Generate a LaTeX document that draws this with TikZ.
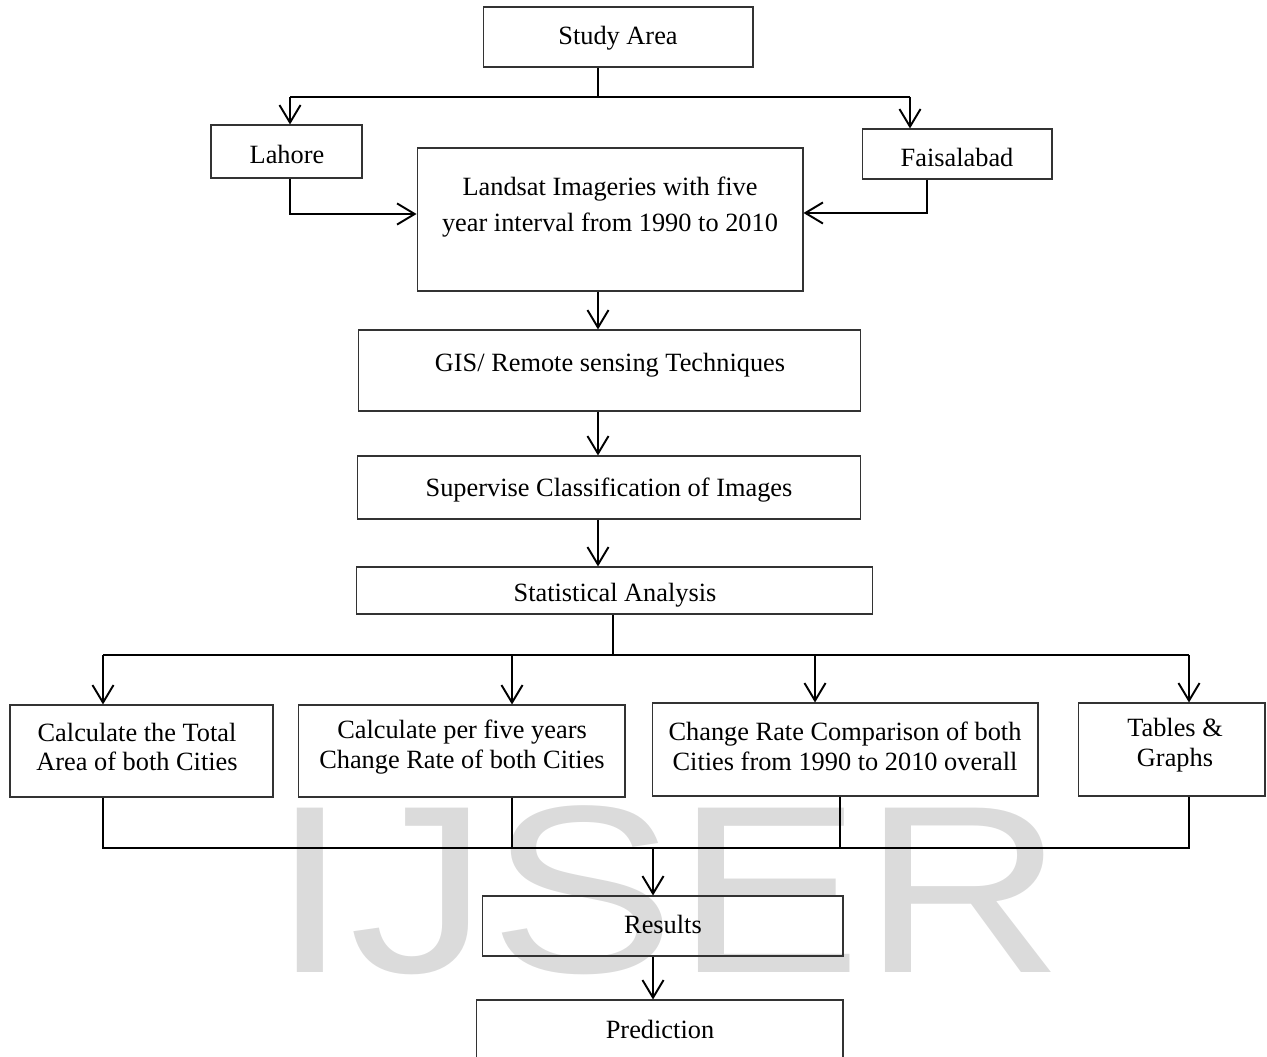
\documentclass[tikz,border=0pt]{standalone}
\usepackage{fontspec}
\setmainfont{Liberation Serif}
\newfontfamily\wmfont{Liberation Sans}
\usetikzlibrary{positioning,arrows.meta,calc}

\begin{document}
\begin{tikzpicture}[
    x=0.02cm, y=-0.02cm,
    box/.style={rectangle, draw=black!80, line width=0.6pt, inner sep=0pt},
    lbl/.style={align=center, inner sep=0pt, font=\fontsize{15}{17}\selectfont},
    link/.style={line width=1.1pt},
    arr/.style={link, -{Straight Barb[length=10pt,width=12pt,line width=1.1pt]}},
    wmark/.style={anchor=base, inner sep=0pt, text=black!14, font=\wmfont\fontsize{136}{136}\selectfont}
]
\useasboundingbox (0,0) rectangle (1267,1057);

% watermark
\node[wmark] (wm) at (668,972) {\scalebox{1.17}[1]{IJSER}};

% boxes
\node[box, minimum width=5.40cm, minimum height=1.20cm] (study) at (618,37) {};
\node[box, minimum width=3.02cm, minimum height=1.06cm] (lahore) at (286.5,151.5) {};
\node[box, minimum width=3.80cm, minimum height=1.00cm] (faisal) at (957,154) {};
\node[box, minimum width=7.72cm, minimum height=2.86cm] (landsat) at (610,219.5) {};
\node[box, minimum width=10.06cm, minimum height=1.62cm] (gis) at (609.5,370.5) {};
\node[box, minimum width=10.08cm, minimum height=1.26cm] (superv) at (609,487.5) {};
\node[box, minimum width=10.34cm, minimum height=0.94cm] (stat) at (614.5,590.5) {};
\node[box, minimum width=5.26cm, minimum height=1.84cm] (total) at (141.5,751) {};
\node[box, minimum width=6.54cm, minimum height=1.84cm] (perfive) at (461.5,751) {};
\node[box, minimum width=7.72cm, minimum height=1.86cm] (change) at (845,749.5) {};
\node[box, minimum width=3.74cm, minimum height=1.86cm] (tables) at (1171.5,749.5) {};
\node[box, minimum width=7.22cm, minimum height=1.20cm] (results) at (662.5,926) {};
\node[box, minimum width=7.34cm, minimum height=1.40cm] (predict) at (659.5,1035) {};

% texts
\node[lbl] (study-t) at (618,38) {Study Area};
\node[lbl] (lahore-t) at (287,154) {Lahore};
\node[lbl] (faisal-t) at (957,157) {Faisalabad};
\node[lbl, font=\fontsize{15}{20}\selectfont] (landsat-t) at (610,207) {Landsat Imageries with five\\year interval from 1990 to 2010};
\node[lbl] (gis-t) at (610,365) {GIS/ Remote sensing Techniques};
\node[lbl] (superv-t) at (609,490) {Supervise Classification of Images};
\node[lbl] (stat-t) at (615,595) {Statistical Analysis};
\node[lbl] (total-t) at (137,747) {Calculate the Total\\Area of both Cities};
\node[lbl] (perfive-t) at (462,747) {Calculate per five years\\Change Rate of both Cities};
\node[lbl] (change-t) at (845,746) {Change Rate Comparison of both\\Cities from 1990 to 2010 overall};
\node[lbl] (tables-t) at (1175,745) {Tables \&\\Graphs};
\node[lbl] (results-t) at (663,924) {Results};
\node[lbl] (predict-t) at (660,1029) {Prediction};

% study area split
\coordinate (topM) at (598,97);
\coordinate (topL) at (290,97);
\coordinate (topR) at (910,97);
\draw[link] (study.south -| topM) -- (topM);
\draw[link] (topL) -- (topR);
\draw[arr] (topL) -- (topL |- lahore.north);
\draw[arr] (topR) -- (topR |- faisal.north);

% cities into imageries
\coordinate (lbend) at (290,214);
\coordinate (fbend) at (927,213);
\draw[arr] (lahore.south -| lbend) -- (lbend) -- (lbend -| landsat.west);
\draw[arr] (faisal.south -| fbend) -- (fbend) -- (fbend -| landsat.east);

% main column
\coordinate (spine) at (598,0);
\draw[arr] (landsat.south -| spine) -- (gis.north -| spine);
\draw[arr] (gis.south -| spine) -- (superv.north -| spine);
\draw[arr] (superv.south -| spine) -- (stat.north -| spine);

% analysis split
\coordinate (busS) at (613,655);
\coordinate (b1) at (103,655);
\coordinate (b2) at (512,655);
\coordinate (b3) at (815,655);
\coordinate (b4) at (1189,655);
\draw[link] (stat.south -| busS) -- (busS);
\draw[link] (b1) -- (b4);
\draw[arr] (b1) -- (b1 |- total.north);
\draw[arr] (b2) -- (b2 |- perfive.north);
\draw[arr] (b3) -- (b3 |- change.north);
\draw[arr] (b4) -- (b4 |- tables.north);

% join into results
\coordinate (c1) at (103,848);
\coordinate (c2) at (512,848);
\coordinate (c3) at (840,848);
\coordinate (c4) at (1189,848);
\coordinate (cM) at (653,848);
\draw[link] (total.south -| c1) -- (c1) -- (c4) -- (tables.south -| c4);
\draw[link] (perfive.south -| c2) -- (c2);
\draw[link] (change.south -| c3) -- (c3);
\draw[arr] (cM) -- (cM |- results.north);
\draw[arr] (results.south -| cM) -- (predict.north -| cM);
\end{tikzpicture}
\end{document}
